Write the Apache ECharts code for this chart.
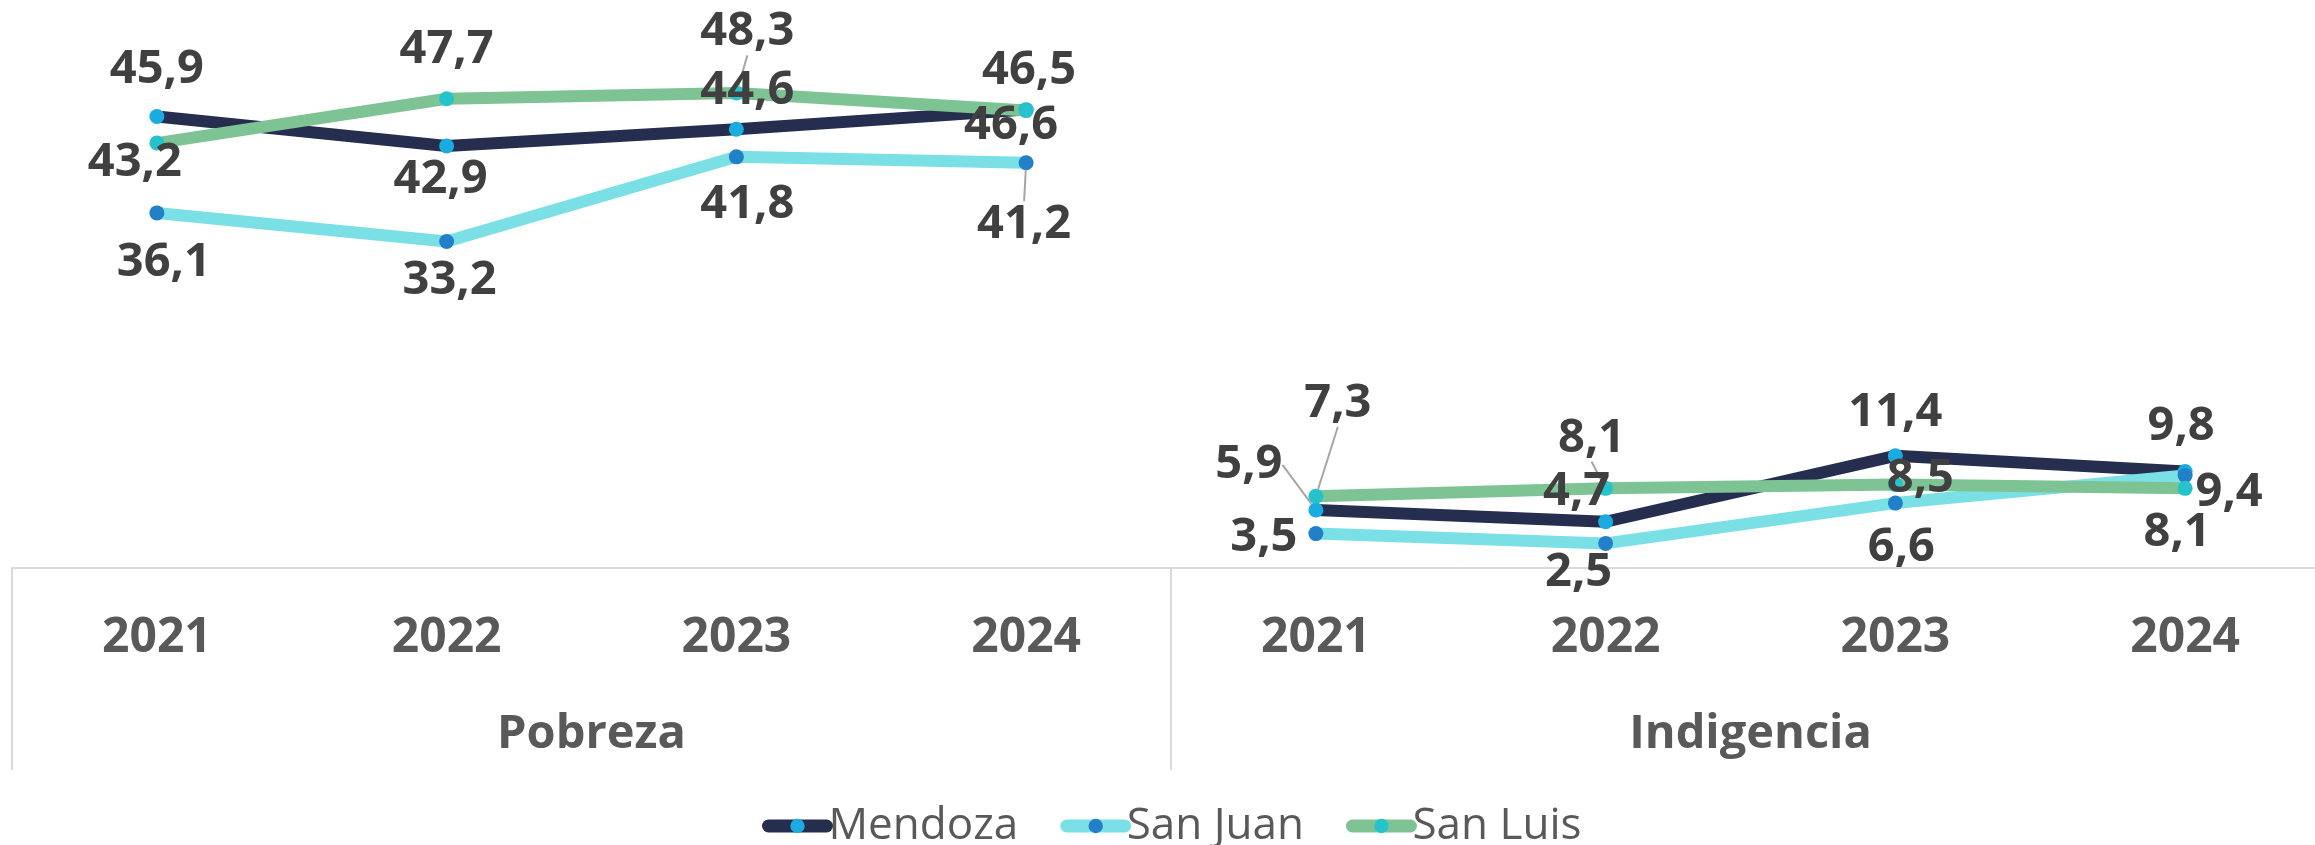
<!DOCTYPE html>
<html>
<head>
<meta charset="utf-8">
<script src="https://cdn.jsdelivr.net/npm/echarts@6/dist/echarts.min.js"></script>
<style>
  html, body { margin: 0; padding: 0; background: #fff; overflow: hidden; }
  #chart { width: 2345px; height: 845px; }
</style>
</head>
<body>
<div id="chart"></div>
<script>
// categorias
var years = ['2021', '2022', '2023', '2024']
var groups = ['Pobreza', 'Indigencia']

// valores (%)
var mendozaPobreza = [45.9, 42.9, 44.6, 46.6]
var mendozaIndigencia = [5.9, 4.7, 11.4, 9.8]
var sanJuanPobreza = [36.1, 33.2, 41.8, 41.2]
var sanJuanIndigencia = [3.5, 2.5, 6.6, 9.4]
var sanLuisPobreza = [43.2, 47.7, 48.3, 46.5]
var sanLuisIndigencia = [7.3, 8.1, 8.5, 8.1]

// desplazamiento de etiquetas (px) respecto al marcador, como en el original
var offMendoza = [[0, -47], [-6, 34], [11, -39], [-15, 16], [-67, -45], [-29, -30], [0, -43], [-4, -45]]
var offSanJuan = [[7, 50], [3, 39], [11, 48], [-2, 62], [-52, 4], [-27, 29], [6, 45], [44, 17]]
var offSanLuis = [[-22, 20], [0, -49], [11, -61], [3, -40], [22, -93], [-14, -50], [25, -6], [-8, 44]]
// etiquetas con linea guia
var guideMendoza = [4]
var guideSanJuan = [3]
var guideSanLuis = [2, 4, 5]

var provincias = [
  { name: 'Mendoza', line: '#252E4F', marker: '#1AACE0', pob: mendozaPobreza, ind: mendozaIndigencia, off: offMendoza, guide: guideMendoza },
  { name: 'San Juan', line: '#7BE0E5', marker: '#2180C8', pob: sanJuanPobreza, ind: sanJuanIndigencia, off: offSanJuan, guide: guideSanJuan },
  { name: 'San Luis', line: '#7DC394', marker: '#26C3CD', pob: sanLuisPobreza, ind: sanLuisIndigencia, off: offSanLuis, guide: guideSanLuis },
]

var categories = years.concat(years)
var FONT = '"Open Sans", "Noto Sans", sans-serif'

function buildData(prov, vals, start) {
  var arr = []
  for (var i = 0; i < 8; i++) arr.push(null)
  vals.forEach(function (v, k) {
    var idx = start + k
    var item = { value: v }
    if (prov.guide.indexOf(idx) >= 0) {
      item.labelLine = { show: true }
    }
    arr[idx] = item
  })
  return arr
}

var series = []
var offsetsBySeries = []
provincias.forEach(function (p) {
  ;[[p.pob, 0], [p.ind, 4]].forEach(function (part) {
    offsetsBySeries.push(p.off)
    series.push({
      name: p.name,
      type: 'line',
      data: buildData(p, part[0], part[1]),
      symbol: 'circle',
      symbolSize: 15,
      showAllSymbol: true,
      connectNulls: false,
      animation: false,
      lineStyle: { color: p.line, width: 12, cap: 'round', join: 'round' },
      itemStyle: { color: p.marker, borderWidth: 0 },
      label: {
        show: true,
        position: 'inside',
        fontFamily: FONT,
        fontWeight: 'bold',
        fontSize: 47,
        color: '#404040',
        formatter: function (params) {
          return params.value == null ? '' : params.value.toFixed(1).replace('.', ',')
        },
      },
      labelLine: {
        show: false,
        lineStyle: { color: '#a6a6a6', width: 2 },
      },
      emphasis: { disabled: true },
    })
  })
})

var chart = echarts.init(document.getElementById('chart'))
chart.setOption({
  backgroundColor: '#ffffff',
  animation: false,
  grid: { left: 12, width: 2318, top: 27, bottom: 277 },
  xAxis: [
    {
      type: 'category',
      data: categories,
      boundaryGap: true,
      axisLine: { show: true, lineStyle: { color: '#d9d9d9', width: 2 } },
      axisTick: { show: false },
      axisLabel: {
        interval: 0,
        margin: 45,
        fontFamily: FONT,
        fontWeight: 'bold',
        fontSize: 48,
        lineHeight: 50,
        color: '#595959',
      },
    },
    {
      type: 'category',
      position: 'bottom',
      data: groups,
      boundaryGap: true,
      axisLine: { show: false },
      axisTick: { show: true, length: 202, interval: 0, lineStyle: { color: '#d9d9d9', width: 2 } },
      axisLabel: {
        interval: 0,
        margin: 142,
        fontFamily: FONT,
        fontWeight: 'bold',
        fontSize: 47,
        lineHeight: 50,
        color: '#595959',
      },
    },
  ],
  yAxis: { type: 'value', min: 0, max: 55, show: false },
  legend: {
    data: ['Mendoza', 'San Juan', 'San Luis'],
    left: 757,
    top: 796,
    itemWidth: 58,
    itemHeight: 18,
    itemGap: 42,
    lineStyle: { width: 13, cap: 'round' },
    textStyle: { fontFamily: FONT, fontSize: 44, color: '#595959', lineHeight: 50, padding: [0, 0, 0, -3] },
  },
  labelLayout: function (params) {
    var off = offsetsBySeries[params.seriesIndex][params.dataIndex]
    if (!off) return {}
    return { dx: off[0], dy: off[1] }
  },
  series: series,
})
</script>
</body>
</html>
